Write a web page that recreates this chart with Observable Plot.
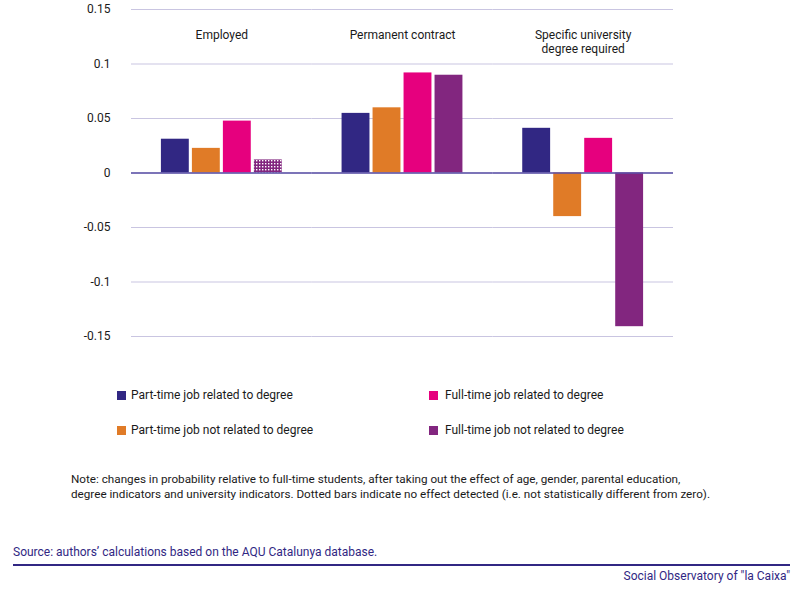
<!DOCTYPE html>
<html>
<head>
<meta charset="utf-8">
<script src="https://cdn.jsdelivr.net/npm/d3@7"></script>
<script src="https://cdn.jsdelivr.net/npm/@observablehq/plot@0.6"></script>
<style>
  body { margin: 0; background: #fff; font-family: Roboto, "Liberation Sans", sans-serif; color: #1a1a1a; }
  #wrap { position: relative; width: 800px; height: 591px; overflow: hidden; }
  #chart { position: absolute; left: 0; top: 0; }
  .leg { position: absolute; font-size: 12px; line-height: 14px; display: flex; align-items: center; }
  .sw { width: 9px; height: 9px; margin-right: 5px; }
  .note { position: absolute; left: 71px; top: 472px; font-size: 11.7px; line-height: 14.5px; width: 720px; }
  .source { position: absolute; left: 13px; top: 545px; font-size: 12px; color: #312783; }
  .rule { position: absolute; left: 13px; top: 564px; width: 777px; height: 2px; background: #312783; }
  .brand { position: absolute; right: 10px; top: 569px; font-size: 12px; color: #312783; }
</style>
</head>
<body>
<div id="wrap">
  <div id="chart"></div>
  <div id="legend"></div>
  <div class="note">Note: changes in probability relative to full-time students, after taking out the effect of age, gender, parental education,<br>degree indicators and university indicators. Dotted bars indicate no effect detected (i.e. not statistically different from zero).</div>
  <div class="source">Source: authors’ calculations based on the AQU Catalunya database.</div>
  <div class="rule"></div>
  <div class="brand">Social Observatory of "la Caixa"</div>
</div>
<script>
const categories = ["Employed", "Permanent contract", "Specific university\ndegree required"];
const series = [
  "Part-time job related to degree",
  "Part-time job not related to degree",
  "Full-time job related to degree",
  "Full-time job not related to degree"
];
const colors = ["#312783", "#E07B27", "#E6007E", "#82267F"];
const employed   = [0.031, 0.0226, 0.0476, 0.012];
const permanent  = [0.0547, 0.0598, 0.0918, 0.0897];
const specific   = [0.041, -0.040, 0.0318, -0.141];
const employedSig  = [true, true, true, false];
const permanentSig = [true, true, true, true];
const specificSig  = [true, true, true, true];
const yTicks = [-0.15, -0.1, -0.05, 0, 0.05, 0.1, 0.15];

const valuesByCat = [employed, permanent, specific];
const sigByCat = [employedSig, permanentSig, specificSig];
const rows = [];
categories.forEach((c, i) => series.forEach((s, j) => rows.push({cat: c, series: s, value: valuesByCat[i][j], sig: sigByCat[i][j]})));

const defs = () => {
  const ns = "http://www.w3.org/2000/svg";
  const d = document.createElementNS(ns, "defs");
  const p = document.createElementNS(ns, "pattern");
  p.setAttribute("id", "dots");
  p.setAttribute("patternUnits", "userSpaceOnUse");
  p.setAttribute("width", "3");
  p.setAttribute("height", "3");
  const bg = document.createElementNS(ns, "rect");
  bg.setAttribute("width", "3"); bg.setAttribute("height", "3"); bg.setAttribute("fill", colors[3]);
  const dot = document.createElementNS(ns, "rect");
  dot.setAttribute("x", "1"); dot.setAttribute("y", "1");
  dot.setAttribute("width", "1.4"); dot.setAttribute("height", "1.4"); dot.setAttribute("fill", "#fff");
  p.appendChild(bg); p.appendChild(dot); d.appendChild(p);
  return d;
};

const chart = Plot.plot({
  width: 800,
  height: 350,
  marginLeft: 131,
  marginRight: 127,
  marginTop: 9,
  marginBottom: 14,
  style: {fontFamily: "Roboto, 'Liberation Sans', sans-serif", fontSize: "12px", color: "#1a1a1a", background: "#fff"},
  fx: {domain: categories, padding: 0, round: false, axis: null},
  x: {domain: series, paddingInner: 0.1, paddingOuter: 0.965, round: false, axis: null},
  y: {domain: [-0.15, 0.15], ticks: yTicks, tickFormat: d => String(d), tickSize: 0, tickPadding: 21, label: null},
  color: {domain: series, range: colors},
  marks: [
    defs,
    Plot.ruleY(yTicks, {stroke: "#c9c5e1", strokeWidth: 1}),
    Plot.barY(rows.filter(r => r.sig), {fx: "cat", x: "series", y: "value", fill: "series"}),
    Plot.barY(rows.filter(r => !r.sig), {fx: "cat", x: "series", y: "value", fill: "url(#dots)"}),
    Plot.ruleY([0], {stroke: "#5a4fa6", strokeWidth: 1.5}),
    Plot.text(categories, {fx: d => d, text: d => d, frameAnchor: "top", dy: 20, lineAnchor: "top", lineHeight: 1.15, fill: "#1a1a1a", fontSize: 12})
  ]
});
document.getElementById("chart").appendChild(chart);

const legPos = [[117, 388, 5], [117, 423, 5], [429, 388, 7], [429, 423, 7]];
const legend = document.getElementById("legend");
series.forEach((s, i) => {
  const el = document.createElement("div");
  el.className = "leg";
  el.style.left = legPos[i][0] + "px";
  el.style.top = legPos[i][1] + "px";
  el.innerHTML = `<span class="sw" style="background:${colors[i]};margin-right:${legPos[i][2]}px"></span><span>${s}</span>`;
  legend.appendChild(el);
});
</script>
</body>
</html>
